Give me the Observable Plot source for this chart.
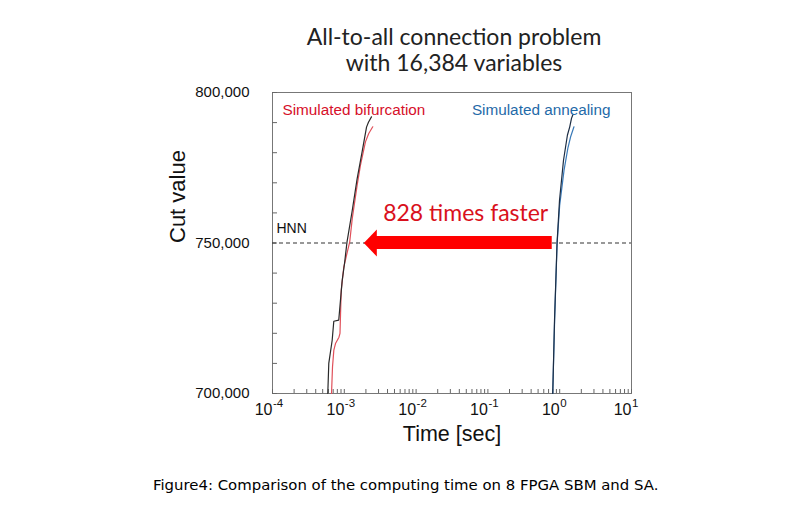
<!DOCTYPE html>
<html>
<head>
<meta charset="utf-8">
<script src="https://cdn.jsdelivr.net/npm/d3@7"></script>
<script src="https://cdn.jsdelivr.net/npm/@observablehq/plot@0.6"></script>
<style>
  body { margin: 0; background: #fff; }
  #wrap { position: relative; width: 792px; height: 518px; background: #fff; overflow: hidden; }
  #title { position: absolute; left: 254px; width: 400px; top: 23px; text-align: center;
           font-family: Lato, "Noto Sans", sans-serif; font-size: 23px; line-height: 26px; color: #222; }
  #chart { position: absolute; left: 0; top: 80px; }
  #cap { position: absolute; left: 153px; top: 476px; font-family: "DejaVu Sans", sans-serif;
         font-size: 14.9px; color: #000; }
</style>
</head>
<body>
<div id="wrap">
  <div id="title">All-to-all connection problem<br>with 16,384 variables</div>
  <div id="chart"></div>
  <div id="cap">Figure4: Comparison of the computing time on 8 FPGA SBM and SA.</div>
</div>
<script>
// ---- data (time in seconds, cut value) ----
const sbRun1Time = [5.89e-4, 6.08e-4, 6.78e-4, 7.14e-4, 8.37e-4, 9.35e-4, 1.007e-3, 1.09e-3, 1.28e-3, 1.51e-3, 1.77e-3, 2.04e-3, 2.17e-3, 2.39e-3];
const sbRun1Cut  = [700000, 710000, 717700, 724000, 724400, 737600, 743200, 750300, 760300, 771400, 780300, 788500, 790100, 791900];
const sbRun2Time = [6.64e-4, 6.85e-4, 7.15e-4, 7.54e-4, 8.43e-4, 8.71e-4, 9.06e-4, 9.85e-4, 1.19e-3, 1.29e-3, 1.51e-3, 1.68e-3, 1.97e-3, 2.19e-3, 2.49e-3];
const sbRun2Cut  = [700000, 708800, 714400, 716600, 718700, 720000, 734300, 742100, 750400, 758100, 769200, 775900, 783600, 786400, 788600];
const saRun1Time = [0.80, 0.847, 0.918, 0.994, 1.13, 1.28, 1.38, 1.46, 1.52];
const saRun1Cut  = [700000, 724400, 749800, 764200, 777500, 785800, 788600, 791400, 792500];
const saRun2Time = [0.80, 0.85, 0.92, 1.00, 1.15, 1.30, 1.42, 1.58];
const saRun2Cut  = [700000, 724400, 749800, 762600, 774200, 781500, 785300, 788600];

const hnnCut = [750000];
const arrowFrom = [0.787];     // SA reaches HNN level
const arrowTo = [1.87e-3];     // arrow tip (SB side)
const speedupLabel = ["828 times faster"];

const seriesLabels = ["Simulated bifurcation", "Simulated annealing"];
const yLabelTicks = [700000, 750000, 800000];
const yMinorTicks = d3.range(700000, 800001, 10000);
const xDecades = [1e-4, 1e-3, 1e-2, 1e-1, 1, 10];
const xMinorTicks = xDecades.slice(0, -1).flatMap(d => d3.range(1, 10).map(m => m * d)).concat([10]);

const toRows = (t, c) => t.map((d, i) => ({time: d, cut: c[i]}));

const chart = Plot.plot({
  width: 792,
  height: 380,
  marginLeft: 272,
  marginRight: 161,
  marginTop: 12,
  marginBottom: 67,
  style: {fontFamily: "'Liberation Sans', Arial, sans-serif", fontSize: "15px", color: "#111", background: "#fff"},
  x: {type: "log", domain: [1e-4, 10], label: null},
  y: {domain: [700000, 800000], label: null},
  marks: [
    Plot.frame({stroke: "#777"}),
    // inward minor ticks
    Plot.axisY({ticks: yMinorTicks, tickSize: 5, dx: 5, tickFormat: () => "", label: null, stroke: "#666"}),
    Plot.axisX({ticks: xMinorTicks, tickSize: 4, dy: -4, tickFormat: () => "", label: null, stroke: "#666"}),
    // y tick labels
    Plot.axisY({ticks: yLabelTicks, tickSize: 0, tickPadding: 23, tickFormat: d3.format(","), label: null, fontSize: 15}),
    // x tick labels: base "10" and raised exponent
    Plot.text(xDecades, {x: d => d, frameAnchor: "bottom", text: () => "10", textAnchor: "end", dx: 0, dy: 21, fontSize: 16, fill: "#111"}),
    Plot.text(xDecades, {x: d => d, frameAnchor: "bottom", text: d => String(Math.round(Math.log10(d))),
      textAnchor: "start", dx: 0.5, dy: 13, fontSize: 11.5, fill: "#111"}),
    // HNN line
    Plot.ruleY(hnnCut, {stroke: "#333", strokeDasharray: "4,3", strokeWidth: 1.2}),
    Plot.text(hnnCut, {y: d => d, frameAnchor: "left", text: () => "HNN", dx: 4, dy: -14, textAnchor: "start", fontSize: 14, fill: "#111"}),
    // curves
    Plot.line(toRows(sbRun2Time, sbRun2Cut), {x: "time", y: "cut", stroke: "#e0505a", strokeWidth: 1.2}),
    Plot.line(toRows(sbRun1Time, sbRun1Cut), {x: "time", y: "cut", stroke: "#2a2a2a", strokeWidth: 1.2}),
    Plot.line(toRows(saRun2Time, saRun2Cut), {x: "time", y: "cut", stroke: "#3a7ab8", strokeWidth: 1.2}),
    Plot.line(toRows(saRun1Time, saRun1Cut), {x: "time", y: "cut", stroke: "#1c2d44", strokeWidth: 1.2}),
    // arrow
    Plot.rect(arrowTo, {x1: d => d, x2: (d, i) => arrowFrom[i], y1: () => hnnCut[0], y2: () => hnnCut[0],
      insetLeft: 12, insetTop: -6.5, insetBottom: -6.5, fill: "#ff0000"}),
    Plot.dot(arrowTo, {x: d => d, y: () => hnnCut[0], fill: "#ff0000", stroke: null, r: 10,
      symbol: {draw(ctx, size) { ctx.moveTo(0, 0); ctx.lineTo(13, -13.5); ctx.lineTo(13, 13.5); ctx.closePath(); }}}),
    Plot.text(speedupLabel, {x: () => arrowFrom[0], y: () => hnnCut[0], dx: -4, dy: -29, textAnchor: "end",
      fontSize: 23, fontFamily: "Lato, 'Noto Sans', sans-serif", fill: "#d9101c"}),
    // series labels
    Plot.text([seriesLabels[0]], {frameAnchor: "top-left", dx: 10, dy: 12, textAnchor: "start", fontSize: 15.3, fill: "#d6102a"}),
    Plot.text([seriesLabels[1]], {frameAnchor: "top-right", dx: -21, dy: 12, textAnchor: "end", fontSize: 15.3, fill: "#1f6aa8"}),
    // axis titles
    Plot.text(["Cut value"], {frameAnchor: "left", dx: -95, rotate: -90, fontSize: 22, fill: "#111"}),
    Plot.text(["Time [sec]"], {frameAnchor: "bottom", dy: 47, fontSize: 21.5, fill: "#111"})
  ]
});
document.getElementById("chart").appendChild(chart);
</script>
</body>
</html>
